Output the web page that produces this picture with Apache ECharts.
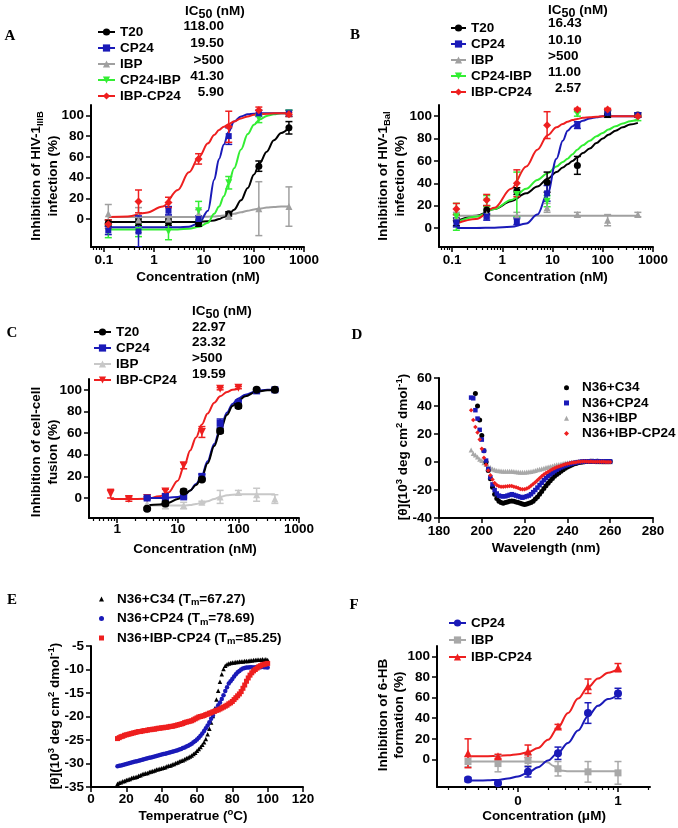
<!DOCTYPE html>
<html>
<head>
<meta charset="UTF-8">
<title>IBP-CP24 panels</title>
<script src="https://cdn.jsdelivr.net/npm/echarts@6.0.0/dist/echarts.min.js"></script>
<style>
  html, body { margin: 0; padding: 0; background: #fff; }
  #main { width: 678px; height: 828px; }
</style>
</head>
<body>
<div id="main"></div>
<script>
// ---------- panel A: HIV-1 IIIB ----------
const concA = [0.122, 0.49, 1.95, 7.8, 31.25, 125, 500];
const A_T20 = [-4, -3, -3, -4, 5, 51, 88];
const A_T20_err = [3, 3, 3, 3, 2, 5, 6];
const A_CP24 = [-11, -12, 8, 0, 80, 102, 102];
const A_CP24_err = [4, 15, 4, 3, 8, 3, 3];
const A_IBP = [5, -1, 0, 5, 3, 10, 12];
const A_IBP_err = [9, 12, 3, 4, 3, 26, 19];
const A_CP24IBP = [-12, -11, -12, 8, 35, 97, 102];
const A_CP24IBP_err = [6, 6, 8, 9, 6, 4, 3];
const A_IBPCP24 = [-5, 17, 16, 58, 89, 105, 101];
const A_IBPCP24_err = [4, 11, 5, 5, 15, 3, 2];
const fitA = [0.122, 0.3, 0.7, 1.5, 3, 5, 8, 12, 16, 20, 25, 31, 40, 55, 75, 100, 130, 180, 250, 350, 500];
const A_T20_fit = [-3, -3, -3, -3, -3, -2.9, -2.7, -2.2, -1.4, 0, 2, 4.5, 9, 18, 30, 43, 54, 65, 76, 83, 88];
const A_CP24_fit = [-8, -8, -8, -8, -8, -7.5, -4, 8, 38, 58, 72, 84, 94, 99, 101, 101.5, 102, 102, 102, 102, 102];
const A_IBP_fit = [2, 2, 2, 2, 2, 2, 2, 2.2, 2.5, 3, 3.5, 4, 5, 6.5, 8, 9.2, 10, 11, 11.5, 12, 12];
const A_CP24IBP_fit = [-10, -10, -10, -10, -10, -9.5, -7.5, -3.5, 5, 12, 22, 34, 49, 67, 82, 91, 96, 99.5, 101, 102, 102];
const A_IBPCP24_fit = [2, 2.5, 6, 12, 28, 45, 60, 73, 81, 86, 89, 91.5, 94, 97, 99, 100.5, 101, 101.5, 102, 102, 102];
const ic50A = ['118.00', '19.50', '>500', '41.30', '5.90'];

// ---------- panel B: HIV-1 Bal ----------
const concB = [0.122, 0.49, 1.95, 7.8, 31.25, 125, 500];
const B_T20 = [7, 16, 33, 41, 56, 102, 101];
const B_T20_err = [5, 4, 3, 9, 8, 3, 2];
const B_CP24 = [5, 10, 6, 31, 92, 103, 101];
const B_CP24_err = [4, 3, 3, 7, 3, 2, 2];
const B_IBP = [10, 12, 11, 18, 12, 7, 12];
const B_IBP_err = [4, 3, 3, 4, 2, 5, 2];
const B_CP24IBP = [10, 24, 30, 24, 102, 103, 98];
const B_CP24IBP_err = [12, 5, 20, 5, 2, 2, 2];
const B_IBPCP24 = [17, 25, 40, 92, 106, 106, 100];
const B_IBPCP24_err = [5, 5, 12, 12, 1, 1, 1];
const fitB = [0.122, 0.3, 0.7, 1.5, 3, 5, 8, 12, 16, 20, 25, 31, 40, 55, 75, 100, 130, 180, 250, 350, 500];
const B_T20_fit = [6, 11, 17, 24, 31, 37, 44, 50, 54, 57, 60, 63, 67, 71, 76, 80, 83.5, 87, 90, 92.5, 94];
const B_CP24_fit = [0, 0, 0.3, 1, 4, 12, 31, 62, 78, 87, 91, 93.5, 96, 98, 99, 100, 100, 100, 100, 100, 100];
const B_IBP_fit = [11, 11, 11, 11, 11, 11, 11, 11, 11, 11, 11, 11, 11, 11, 11, 11, 11, 11, 11, 11, 11];
const B_CP24IBP_fit = [5, 10, 17, 25, 35, 43, 49, 55, 59, 62, 66, 70, 74, 78, 82, 85, 88, 91, 93.5, 95.5, 97];
const B_IBPCP24_fit = [4, 8, 18, 35, 55, 70, 83, 90, 93, 95, 96.5, 97.5, 98.5, 99, 99.5, 100, 100, 100, 100, 100, 100];
const ic50B = ['16.43', '10.10', '>500', '11.00', '2.57'];

// ---------- panel C: cell-cell fusion ----------
const concC = [3.125, 6.25, 12.5, 25, 50, 100, 200, 400];
const C_T20 = [-10, -5, 6, 17, 62, 85, 100, 100];
const C_T20_err = [1, 2, 2, 1, 2, 2, 1, 1];
const C_CP24 = [0, 1, 1, 20, 69, 88, 99, 100];
const C_CP24_err = [1, 3, 1, 2, 4, 2, 1, 1];
const C_IBP = [-5, -7, -7, -4, 1, 5, 3, -1];
const C_IBP_err = [3, 3, 3, 1, 6, 2, 6, 4];
const concC2 = [0.78, 1.56, 3.125, 6.25, 12.5, 25, 50, 100];
const C_IBPCP24 = [4, -1, 0, 6, 30, 61, 101, 102];
const C_IBPCP24_err = [4, 2, 1, 2, 3, 5, 1, 1];
const fitC = [3, 5, 7, 10, 13, 16, 20, 25, 31, 40, 50, 65, 80, 100, 130, 200, 300, 400];
const C_T20_fit = [-7, -6, -4.5, -1, 3, 7, 12, 19.5, 32, 48, 62, 77, 85, 90, 94, 98.5, 99.5, 99.5];
const C_CP24_fit = [0, 0, 0.2, 1, 3, 7, 13, 21, 34, 50, 64, 79, 87, 92, 95.5, 99, 100, 100];
const C_IBP_fit = [-7, -7, -7, -7, -7, -6.5, -5.5, -4.5, -3, -1, 1, 2.5, 3, 3.3, 3.5, 3.5, 3.5, 3.5];
const fitC2 = [0.78, 1.5, 3, 5, 7, 10, 13, 16, 20, 25, 31, 40, 50, 65, 80, 100];
const C_IBPCP24_fit = [-1, -1, -0.8, 1.5, 5, 16, 31, 44, 56, 68, 78, 88, 94, 98, 100, 101];
const ic50C = ['22.97', '23.32', '>500', '19.59'];

// ---------- panel D: CD spectra ----------
const D_WL = [195, 196, 197, 198, 199, 200, 201, 202, 203, 204, 205, 206, 207, 208, 209, 210, 211, 212, 213, 214,
  215, 216, 217, 218, 219, 220, 221, 222, 223, 224, 225, 226, 227, 228, 229, 230, 231, 232, 233, 234,
  235, 236, 237, 238, 239, 240, 241, 242, 243, 244, 245, 246, 247, 248, 249, 250, 251, 252, 253, 254,
  255, 256, 257, 258, 259, 260];
const D_C34 = [null, null, 49, 40, 30, 19, 8, 0, -6, -12, -18, -23, -26, -28, -29, -29.5, -29, -28.5, -28, -27.8,
  -28, -28.5, -29, -29.5, -30, -30.3, -30, -29.5, -29, -28, -26.5, -25, -23, -21, -19, -17, -15.2, -13.4, -11.7, -10.2,
  -8.9, -7.8, -6.6, -5.5, -4.5, -3.6, -2.8, -2.1, -1.5, -1, -0.5, -0.2, 0, 0.2, 0.3, 0.4, 0.5, 0.5, 0.4, 0.5,
  0.4, 0.3, 0.4, 0.3, 0.3, 0.3];
const D_CP24 = [46, 45.5, 37, 31, 23, 16, 8, 1, -5, -11, -16, -20, -22.5, -24, -24.5, -24.5, -24.5, -24, -23.5, -23,
  -23.5, -24, -24.5, -25, -25.5, -25, -24.5, -24, -23, -21.5, -20, -18.3, -16.5, -14.8, -13, -11.5, -10, -8.8, -7.6, -6.5,
  -5.5, -4.6, -3.8, -3.1, -2.5, -2, -1.5, -1.1, -0.7, -0.4, -0.1, 0.1, 0.3, 0.4, 0.5, 0.5, 0.6, 0.5, 0.5, 0.6,
  0.5, 0.5, 0.4, 0.5, 0.4, 0.4];
const D_IBP = [8.5, 6, 5, 3.5, 2, 1, -0.5, -1.8, -3, -4, -5, -5.6, -6, -6.3, -6.5, -6.6, -6.6, -6.6, -6.6, -6.6,
  -6.8, -7, -7.2, -7.3, -7.4, -7.4, -7.2, -7, -6.7, -6.4, -6, -5.6, -5.2, -4.8, -4.4, -4, -3.6, -3.2, -2.8, -2.4,
  -2, -1.7, -1.4, -1.1, -0.8, -0.6, -0.4, -0.2, -0.1, 0, 0.1, 0.2, 0.2, 0.3, 0.3, 0.3, 0.3, 0.3, 0.3, 0.2,
  0.3, 0.2, 0.2, 0.2, 0.1, 0.1];
const D_IBPCP24 = [37, 30, 25, 21, 16, 9.5, 3, -2, -6, -9.5, -12.5, -15, -16.5, -17.3, -17.6, -17.6, -17.5, -17.3, -17.1, -17.2,
  -17.6, -18, -18.6, -19.2, -19.5, -19.4, -19, -18.2, -17, -15.8, -14.4, -13, -11.6, -10.2, -9, -7.9, -6.9, -6, -5.2, -4.5,
  -3.8, -3.2, -2.6, -2.1, -1.6, -1.2, -0.9, -0.6, -0.3, -0.1, 0.1, 0.2, 0.3, 0.3, 0.3, 0.2, 0.3, 0.2, 0.2, 0.1,
  0.2, 0.1, 0.1, 0, 0, 0];

// ---------- panel E: thermal unfolding ----------
const E_T = [15, 16, 17, 18, 19, 20, 21, 22, 23, 24, 25, 26, 27, 28, 29, 30, 31, 32, 33, 34,
  35, 36, 37, 38, 39, 40, 41, 42, 43, 44, 45, 46, 47, 48, 49, 50, 51, 52, 53, 54,
  55, 56, 57, 58, 59, 60, 61, 62, 63, 64, 65, 66, 67, 68, 69, 70, 71, 72, 73, 74,
  75, 76, 77, 78, 79, 80, 81, 82, 83, 84, 85, 86, 87, 88, 89, 90, 91, 92, 93, 94,
  95, 96, 97, 98, 99, 100];
const E_C34 = [-34.3, -34.1, -34.0, -33.8, -33.7, -33.5, -33.4, -33.3, -33.1, -33.0,
  -32.9, -32.8, -32.6, -32.5, -32.3, -32.2, -32.1, -32.0, -31.8, -31.7,
  -31.6, -31.5, -31.3, -31.2, -31.1, -31.0, -30.9, -30.8, -30.6, -30.5,
  -30.4, -30.2, -30.1, -29.9, -29.8, -29.6, -29.4, -29.3, -29.1, -28.9,
  -28.7, -28.5, -28.3, -28.0, -27.7, -27.3, -26.9, -26.5, -26.0, -25.5,
  -24.8, -23.8, -22.6, -21.3, -19.9, -18.3, -16.4, -14.5, -12.6, -11.0,
  -9.9, -9.2, -8.9, -8.7, -8.6, -8.5, -8.5, -8.4, -8.4, -8.3,
  -8.3, -8.3, -8.2, -8.2, -8.2, -8.1, -8.1, -8.0, -8.0, -7.9,
  -7.9, -7.9, -7.8, -7.9, -7.8, -8.0];
const E_CP24 = [-30.6, -30.5, -30.4, -30.3, -30.2, -30.1, -30.0, -29.9, -29.8, -29.7,
  -29.6, -29.5, -29.4, -29.3, -29.2, -29.1, -29.0, -28.9, -28.8, -28.7,
  -28.6, -28.5, -28.4, -28.3, -28.2, -28.1, -28.0, -27.9, -27.8, -27.7,
  -27.6, -27.5, -27.4, -27.3, -27.2, -27.0, -26.9, -26.7, -26.6, -26.4,
  -26.2, -26.0, -25.8, -25.5, -25.2, -24.9, -24.5, -24.1, -23.6, -23.1,
  -22.5, -21.9, -21.2, -20.5, -19.8, -19.0, -18.3, -17.6, -17.0, -16.3,
  -15.5, -14.6, -13.8, -13.0, -12.5, -12.0, -11.5, -11.0, -10.6, -10.3,
  -10.0, -9.8, -9.7, -9.6, -9.6, -9.5, -9.5, -9.6, -9.5, -9.5,
  -9.5, -9.5, -9.4, -9.5, -9.5, -9.6];
const E_IBPCP24 = [-24.7, -24.5, -24.3, -24.2, -24.0, -23.9, -23.8, -23.7, -23.6, -23.5,
  -23.4, -23.3, -23.2, -23.2, -23.1, -23.0, -23.0, -22.9, -22.8, -22.8,
  -22.7, -22.7, -22.6, -22.5, -22.5, -22.4, -22.4, -22.3, -22.3, -22.2,
  -22.1, -22.1, -22.0, -21.9, -21.8, -21.7, -21.6, -21.5, -21.3, -21.2,
  -21.1, -21.0, -20.9, -20.7, -20.5, -20.3, -20.1, -20.0, -19.9, -19.8,
  -19.6, -19.5, -19.3, -19.2, -19.0, -18.9, -18.7, -18.6, -18.4, -18.2,
  -18.0, -17.8, -17.6, -17.3, -17.1, -16.8, -16.4, -16.0, -15.6, -15.2,
  -14.7, -14.0, -13.3, -12.5, -11.8, -11.2, -10.7, -10.3, -10.0, -9.7,
  -9.4, -9.2, -9.0, -8.9, -8.8, -8.7];
const tmE = ['67.27', '78.69', '85.25'];

// ---------- panel F: 6-HB formation ----------
const xF = [-0.5, -0.2, 0.1, 0.4, 0.7, 1.0];
const F_CP24 = [-19.5, -23, -12, 6, 45, 64];
const F_CP24_err = [2, 1, 5, 6, 10, 5];
const F_IBP = [-2, -4, -1, -9, -12, -13];
const F_IBP_err = [5, 8, 5, 7, 10, 11];
const F_IBPCP24 = [6, 3, 8, 32, 71, 89];
const F_IBPCP24_err = [14, 2, 6, 2, 7, 4];
const fitF = [-0.5, -0.4, -0.3, -0.2, -0.1, 0, 0.1, 0.2, 0.3, 0.4, 0.5, 0.6, 0.7, 0.8, 0.9, 1.0];
const F_CP24_fit = [-20.5, -20.4, -20.2, -19.8, -18.5, -16.5, -13, -7.5, -1, 6.5, 16, 28, 42, 52, 58.5, 62.5];
const F_IBPCP24_fit = [3, 3, 3.2, 3.5, 4, 5, 7, 11, 19, 31, 45, 59, 70, 78.5, 84, 87.5];
const fitF_IBP = [-0.5, -0.2, 0.1, 0.25, 0.3, 0.35, 0.4, 0.45, 0.5, 0.7, 1.0];
const F_IBP_fit = [-2, -2, -2, -2.2, -3, -6, -9.5, -11, -11.5, -11.5, -11.5];

// tick values
const logMajor = [0.1, 1, 10, 100, 1000];
const logMinor = [0.06, 0.07, 0.08, 0.09, 0.2, 0.3, 0.4, 0.5, 0.6, 0.7, 0.8, 0.9, 2, 3, 4, 5, 6, 7, 8, 9,
  20, 30, 40, 50, 60, 70, 80, 90, 200, 300, 400, 500, 600, 700, 800, 900];
const pctTicks = [0, 20, 40, 60, 80, 100];
const fMajor = [0, 1];
const fMinor = [-0.699, -0.523, -0.398, -0.301, -0.222, -0.155, -0.097, -0.046,
  0.301, 0.477, 0.602, 0.699, 0.778, 0.845, 0.903, 0.954, 1.301];

// ---------- styling ----------
const FONT = '"Liberation Sans", Arial, Helvetica, sans-serif';
const BOLD = 'bold 13.5px ' + FONT;
const BLACK = '#000000', BLUE = '#1a1ab8', GRAY = '#a0a0a0', LGRAY = '#c8c8c8',
      GREEN = '#33ee33', RED = '#ee1f1f';
const LABEL = { color: '#000', fontFamily: FONT, fontWeight: 'bold', fontSize: 13.5 };
const AXLINE = { color: '#000', width: 2 };
const TICK = { color: '#000', width: 1.5 };
const RICH = {
  sub: { fontSize: 9.5, fontWeight: 'bold', fontFamily: FONT, padding: [7, 0, 0, 0] },
  sup: { fontSize: 9.5, fontWeight: 'bold', fontFamily: FONT, padding: [0, 0, 7, 0] },
  s50: { fontSize: 12.5, fontWeight: 'bold', fontFamily: FONT, padding: [8, 0, 0, 0] }
};

const chart = echarts.init(document.getElementById('main'), null, { renderer: 'canvas' });

// axis index per panel
const X = { A: 0, B: 2, C: 4, D: 6, E: 7, F: 8 };
const Y = { A: 0, B: 1, C: 2, D: 3, E: 4, F: 5 };

function logX(grid, min, max, labelMargin) {
  const base = { type: 'log', logBase: 10, gridIndex: grid, min: min, max: max, position: 'bottom',
    splitLine: { show: false } };
  return [
    Object.assign({}, base, {
      axisLine: { show: true, onZero: false, lineStyle: AXLINE },
      axisTick: { show: true, customValues: logMajor, length: 5, lineStyle: TICK },
      axisLabel: Object.assign({ customValues: logMajor, margin: labelMargin,
        formatter: v => String(+(+v).toPrecision(3)) }, LABEL)
    }),
    Object.assign({}, base, {
      axisLine: { show: false, onZero: false },
      axisTick: { show: true, customValues: logMinor, length: 3, lineStyle: { color: '#000', width: 1.2 } },
      axisLabel: { show: false }
    })
  ];
}

function valX(grid, min, max, interval, labelMargin) {
  return { type: 'value', gridIndex: grid, min: min, max: max, interval: interval, position: 'bottom',
    splitLine: { show: false },
    axisLine: { show: true, onZero: false, lineStyle: AXLINE },
    axisTick: { show: true, length: 5, lineStyle: TICK },
    axisLabel: Object.assign({ margin: labelMargin }, LABEL) };
}

function valY(grid, min, max, custom, interval) {
  const ax = { type: 'value', gridIndex: grid, min: min, max: max, position: 'left',
    splitLine: { show: false },
    axisLine: { show: true, onZero: false, lineStyle: AXLINE },
    axisTick: { show: true, length: 5, lineStyle: TICK },
    axisLabel: Object.assign({ margin: 7 }, LABEL) };
  if (custom) { ax.axisTick.customValues = custom; ax.axisLabel.customValues = custom; }
  if (interval) ax.interval = interval;
  return ax;
}

function errBar(params, api) {
  const x = api.value(0), lo = api.value(1), hi = api.value(2);
  const a = api.coord([x, lo]), b = api.coord([x, hi]);
  const w = 3.5;
  const st = { stroke: api.visual('color'), lineWidth: 1.5 };
  return { type: 'group', children: [
    { type: 'line', shape: { x1: a[0], y1: a[1], x2: b[0], y2: b[1] }, style: st },
    { type: 'line', shape: { x1: a[0] - w, y1: a[1], x2: a[0] + w, y2: a[1] }, style: st },
    { type: 'line', shape: { x1: b[0] - w, y1: b[1], x2: b[0] + w, y2: b[1] }, style: st }
  ] };
}

// dose-response set: fitted curve (legend entry), points, error bars
function doseSet(p, name, color, sym, rot, size, xs, ys, errs, fx, fy) {
  const id = p + '|' + name;
  const ax = { xAxisIndex: X[p], yAxisIndex: Y[p] };
  return [
    Object.assign({ name: id, type: 'line', data: fx.map((x, i) => [x, fy[i]]),
      smooth: 0.35, smoothMonotone: 'x', showSymbol: false, symbol: sym, symbolRotate: rot, symbolSize: size,
      lineStyle: { color: color, width: 2 }, itemStyle: { color: color }, z: 2, silent: true }, ax),
    Object.assign({ name: id + '|err', type: 'custom', renderItem: errBar, clip: true,
      data: xs.map((x, i) => [x, ys[i] - errs[i], ys[i] + errs[i]]), encode: { x: 0, y: [1, 2] },
      itemStyle: { color: color }, z: 3, silent: true }, ax),
    Object.assign({ name: id + '|pts', type: 'scatter', data: xs.map((x, i) => [x, ys[i]]),
      symbol: sym, symbolRotate: rot, symbolSize: size, itemStyle: { color: color, opacity: 1 },
      z: 4, silent: true }, ax)
  ];
}

function dots(p, name, color, sym, size, xs, ys) {
  return { name: p + '|' + name, type: 'scatter', xAxisIndex: X[p], yAxisIndex: Y[p],
    symbol: sym, symbolSize: size, itemStyle: { color: color, opacity: 1 }, silent: true, z: 3,
    data: xs.map((x, i) => [x, ys[i]]).filter(d => d[1] !== null) };
}

const series = [].concat(
  doseSet('A', 'T20', BLACK, 'circle', 0, 7, concA, A_T20, A_T20_err, fitA, A_T20_fit),
  doseSet('A', 'IBP', GRAY, 'triangle', 0, 7, concA, A_IBP, A_IBP_err, fitA, A_IBP_fit),
  doseSet('A', 'CP24-IBP', GREEN, 'triangle', 180, 7, concA, A_CP24IBP, A_CP24IBP_err, fitA, A_CP24IBP_fit),
  doseSet('A', 'CP24', BLUE, 'rect', 0, 6, concA, A_CP24, A_CP24_err, fitA, A_CP24_fit),
  doseSet('A', 'IBP-CP24', RED, 'diamond', 0, 8, concA, A_IBPCP24, A_IBPCP24_err, fitA, A_IBPCP24_fit),

  doseSet('B', 'T20', BLACK, 'circle', 0, 7, concB, B_T20, B_T20_err, fitB, B_T20_fit),
  doseSet('B', 'IBP', GRAY, 'triangle', 0, 7, concB, B_IBP, B_IBP_err, fitB, B_IBP_fit),
  doseSet('B', 'CP24-IBP', GREEN, 'triangle', 180, 7, concB, B_CP24IBP, B_CP24IBP_err, fitB, B_CP24IBP_fit),
  doseSet('B', 'CP24', BLUE, 'rect', 0, 6, concB, B_CP24, B_CP24_err, fitB, B_CP24_fit),
  doseSet('B', 'IBP-CP24', RED, 'diamond', 0, 8, concB, B_IBPCP24, B_IBPCP24_err, fitB, B_IBPCP24_fit),

  doseSet('C', 'IBP', LGRAY, 'triangle', 0, 7, concC, C_IBP, C_IBP_err, fitC, C_IBP_fit),
  doseSet('C', 'IBP-CP24', RED, 'triangle', 180, 8, concC2, C_IBPCP24, C_IBPCP24_err, fitC2, C_IBPCP24_fit),
  doseSet('C', 'CP24', BLUE, 'rect', 0, 7, concC, C_CP24, C_CP24_err, fitC, C_CP24_fit),
  doseSet('C', 'T20', BLACK, 'circle', 0, 8, concC, C_T20, C_T20_err, fitC, C_T20_fit),

  [dots('D', 'N36+IBP', '#a8a8a8', 'triangle', 5, D_WL, D_IBP),
   dots('D', 'N36+C34', BLACK, 'circle', 5, D_WL, D_C34),
   dots('D', 'N36+CP24', BLUE, 'rect', 4.5, D_WL, D_CP24),
   dots('D', 'N36+IBP-CP24', RED, 'diamond', 4.5, D_WL, D_IBPCP24)],

  [dots('E', 'N36+C34|' + tmE[0], BLACK, 'triangle', 4.5, E_T, E_C34),
   dots('E', 'N36+CP24|' + tmE[1], BLUE, 'circle', 4.5, E_T, E_CP24),
   dots('E', 'N36+IBP-CP24|' + tmE[2], RED, 'rect', 5, E_T, E_IBPCP24)],

  doseSet('F', 'IBP', '#a8a8a8', 'rect', 0, 7, xF, F_IBP, F_IBP_err, fitF_IBP, F_IBP_fit),
  doseSet('F', 'CP24', BLUE, 'circle', 0, 8, xF, F_CP24, F_CP24_err, fitF, F_CP24_fit),
  doseSet('F', 'IBP-CP24', RED, 'triangle', 0, 8, xF, F_IBPCP24, F_IBPCP24_err, fitF, F_IBPCP24_fit)
);

const legTxt = Object.assign({ lineHeight: 16 }, LABEL);
function leg(names, left, top, iw, ih, gap, extra) {
  return Object.assign({ data: names, left: left, top: top, orient: 'vertical', padding: 0,
    itemWidth: iw, itemHeight: ih, itemGap: gap, selectedMode: false,
    textStyle: legTxt, formatter: n => n.split('|')[1] }, extra || {});
}

const legends = [
  leg(['A|T20', 'A|CP24', 'A|IBP', 'A|CP24-IBP', 'A|IBP-CP24'], 97, 24, 17, 9, 0),
  leg(['B|T20', 'B|CP24', 'B|IBP', 'B|CP24-IBP', 'B|IBP-CP24'], 450, 20, 15, 9, 0),
  leg(['C|T20', 'C|CP24', 'C|IBP', 'C|IBP-CP24'], 93, 324, 17, 9, 0),
  leg(['D|N36+C34', 'D|N36+CP24', 'D|N36+IBP', 'D|N36+IBP-CP24'], 564, 380, 5, 5, 0,
      { textStyle: Object.assign({}, LABEL, { lineHeight: 15.3, padding: [0, 0, 0, 8] }) }),
  leg(['E|N36+C34|' + tmE[0], 'E|N36+CP24|' + tmE[1], 'E|N36+IBP-CP24|' + tmE[2]], 99, 591, 5, 5, 3, {
    formatter: n => { const s = n.split('|'); return '{t|' + s[1] + ' (T}{s|m}{t|=' + s[2] + ')}'; },
    textStyle: Object.assign({}, LABEL, { lineHeight: 16, padding: [0, 0, 0, 8], rich: {
      t: { fontSize: 13.5, fontWeight: 'bold', fontFamily: FONT, color: '#000', lineHeight: 16 },
      s: { fontSize: 9.5, fontWeight: 'bold', fontFamily: FONT, color: '#000', padding: [7, 0, 0, 0] } } })
  }),
  leg(['F|CP24', 'F|IBP', 'F|IBP-CP24'], 448, 615, 17, 9, 1)
];

// ---------- text: panel letters, IC50 tables, axis titles ----------
const graphicEls = [];
function txt(x, y, text, o) {
  o = o || {};
  graphicEls.push({ type: 'text', x: x, y: y, rotation: o.rot || 0, z: 100, silent: true,
    style: { text: text, fill: '#000', font: o.font || BOLD,
      align: o.align || 'left', verticalAlign: 'middle',
      textAlign: o.align || 'left', textVerticalAlign: 'middle',
      lineHeight: o.lh || 16, rich: RICH } });
}
const LETTER = 'bold 15px "Liberation Serif", "Times New Roman", serif';
txt(10, 36, 'A', { font: LETTER, align: 'center' });
txt(355, 35, 'B', { font: LETTER, align: 'center' });
txt(12, 333, 'C', { font: LETTER, align: 'center' });
txt(357, 335, 'D', { font: LETTER, align: 'center' });
txt(12, 600, 'E', { font: LETTER, align: 'center' });
txt(354, 605, 'F', { font: LETTER, align: 'center' });

txt(185, 11, 'IC{s50|50} (nM)');
const rowsA = [26, 43, 60, 76, 92];
ic50A.forEach((v, i) => txt(224, rowsA[i], v, { align: 'right' }));
txt(548, 10, 'IC{s50|50} (nM)');
const rowsB = [23, 40, 56, 72, 88];
ic50B.forEach((v, i) => txt(i === 4 ? 555 : 548, rowsB[i], v));
txt(192, 311, 'IC{s50|50} (nM)');
const rowsC = [327, 342, 358, 374];
ic50C.forEach((v, i) => txt(192, rowsC[i], v));

const R90 = Math.PI / 2;
txt(45, 176, 'Inhibition of HIV-1{sub|IIIB}\ninfection (%)', { rot: R90, align: 'center', lh: 16.5 });
txt(392, 176, 'Inhibition of HIV-1{sub|Bal}\ninfection (%)', { rot: R90, align: 'center', lh: 16.5 });
txt(45, 452, 'Inhibition of cell-cell\nfusion (%)', { rot: R90, align: 'center', lh: 16.5 });
txt(403, 447, '[\u03b8](10{sup|3} deg cm{sup|2} dmol{sup|-1})', { rot: R90, align: 'center' });
txt(55, 716, '[\u03b8](10{sup|3} deg cm{sup|2} dmol{sup|-1})', { rot: R90, align: 'center' });
txt(391, 715, 'Inhibition of 6-HB\nformation (%)', { rot: R90, align: 'center', lh: 16 });

txt(198, 277, 'Concentration (nM)', { align: 'center' });
txt(546, 277, 'Concentration (nM)', { align: 'center' });
txt(195, 549, 'Concentration (nM)', { align: 'center' });
txt(546, 548, 'Wavelength (nm)', { align: 'center' });
txt(193, 816, 'Temperatrue ({sup|o}C)', { align: 'center' });
txt(544, 816, 'Concentration (\u03bcM)', { align: 'center' });

const grids = [
  { left: 91, top: 105, width: 213, height: 142 },
  { left: 439, top: 105, width: 214, height: 142 },
  { left: 89, top: 379, width: 210, height: 139 },
  { left: 439, top: 378, width: 214, height: 140 },
  { left: 91, top: 646, width: 212, height: 141 },
  { left: 437, top: 646, width: 213, height: 141 }
].map(g => Object.assign(g, { containLabel: false, outerBoundsMode: 'none' }));

const fAxis = valX(5, -0.81, 1.32, null, 7);
fAxis.axisTick.customValues = fMajor;
fAxis.axisLabel.customValues = fMajor;
delete fAxis.interval;
const fMinorAxis = { type: 'value', gridIndex: 5, min: -0.81, max: 1.32, position: 'bottom',
  splitLine: { show: false }, axisLine: { show: false, onZero: false }, axisLabel: { show: false },
  axisTick: { show: true, customValues: fMinor, length: 3, lineStyle: { color: '#000', width: 1.2 } } };

const option = {
  animation: false,
  backgroundColor: '#ffffff',
  grid: grids,
  xAxis: [].concat(
    logX(0, 0.055, 1000.5, 6),
    logX(1, 0.055, 1000.5, 6),
    logX(2, 0.343, 1000.5, 4),
    [valX(3, 180, 280, 20, 6), valX(4, 0, 120, 20, 5), fAxis, fMinorAxis]
  ),
  yAxis: [
    valY(0, -27, 110, pctTicks),
    valY(1, -17, 110, pctTicks),
    valY(2, -18.5, 110, pctTicks),
    valY(3, -40, 60, null, 20),
    valY(4, -35, -5, null, 5),
    valY(5, -26.7, 110, pctTicks)
  ],
  legend: legends,
  graphic: { elements: graphicEls },
  series: series
};
chart.setOption(option);
</script>
</body>
</html>
